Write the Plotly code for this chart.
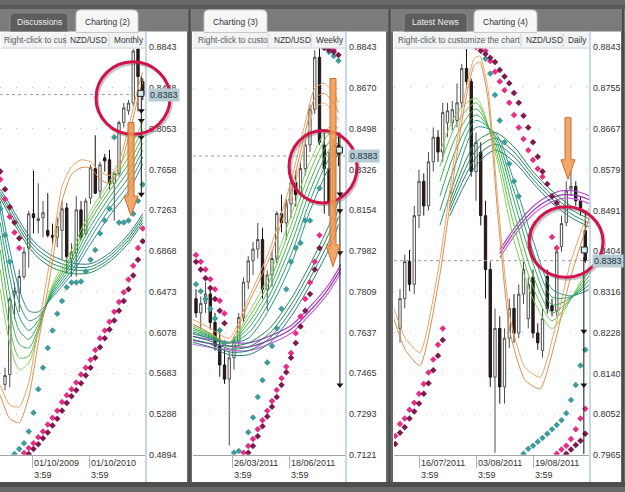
import plotly.graph_objects as go

W, H = 625, 492
FONT = "Liberation Sans, Arial, sans-serif"


def fx(px):
    return px / W


def fy(py):
    return 1 - py / H


def pt(px, py):
    return f"{fx(px):.5f},{fy(py):.5f}"


CURRENT = 0.8383
SYMBOL = "NZD/USD"

# ======================= Panel 1 : Monthly =======================
M_TICKS = [0.4894, 0.5288, 0.5683, 0.6078, 0.6473, 0.6868, 0.7263, 0.7658, 0.8053, 0.8448, 0.8843]
M_DATES = ["01/10/2009", "01/10/2010"]
M_DATE_POS = [5.7, 17.7]
M_OPEN = [.5575, .5670, .6449, .6468, .6620, .6896, .7228, .7162, .7190, .7067, .7019, .7000, .7067, .7285, .6791,
          .6848, .7266, .7038, .7380, .7665, .7447, .7770, .7751, .7523, .7618, .8112, .8226, .8301, .8824, .8510]
M_HIGH = [.5737, .6421, .6563, .6687, .6905, .7257, .7646, .7523, .7352, .7428, .7133, .7190, .7352, .7333, .6943,
          .7399, .7352, .7380, .7703, .7988, .7732, .7808, .7846, .7637, .8130, .8301, .8330, .8824, .8843, .8540]
M_LOW = [.5518, .5547, .6212, .6278, .6592, .6706, .7038, .7038, .7000, .7000, .6924, .6905, .6782, .6658, .6620,
         .6620, .6972, .7019, .7323, .7420, .7380, .7637, .7466, .7162, .7589, .8064, .8187, .8273, .8220, .8330]
M_CLOSE = [.5661, .6402, .6478, .6620, .6858, .7228, .7190, .7181, .7238, .7019, .7000, .7105, .7276, .6810, .6858,
           .7266, .7000, .7352, .7675, .7428, .7703, .7741, .7523, .7618, .8112, .8254, .8301, .8805, .8558, .8383]
M_RIB_X = [-1, 1, 3, 5, 7, 10, 14, 18, 22, 26, 29]
M_FAST = [
    [.6497, .5974, .5718, .5784, .6069, .6544, .6877, .7257, .7542, .7846, .8112],
    [.6687, .6117, .5832, .5851, .6088, .6516, .6829, .7209, .7494, .7779, .8045],
    [.6877, .6288, .5965, .5927, .6117, .6497, .6791, .7162, .7447, .7713, .7979],
    [.7019, .6449, .6098, .6012, .6155, .6478, .6753, .7105, .7390, .7646, .7912],
    [.7143, .6611, .6231, .6098, .6193, .6459, .6715, .7048, .7333, .7580, .7846],
    [.7257, .6753, .6364, .6193, .6231, .6440, .6677, .6991, .7276, .7513, .7779],
    [.7352, .6877, .6497, .6288, .6278, .6421, .6639, .6934, .7209, .7447, .7713],
]
M_SLOW = [
    [.7380, .7209, .7048, .6905, .6801, .6706, .6649, .6658, .6763, .6943, .7143],
    [.7409, .7247, .7086, .6943, .6839, .6744, .6687, .6687, .6791, .6972, .7171],
    [.7437, .7285, .7124, .6981, .6877, .6782, .6715, .6715, .6820, .7000, .7200],
    [.7466, .7323, .7162, .7019, .6915, .6820, .6753, .6744, .6848, .7029, .7228],
]
M_ORANGE_X = [-1, 1, 3, 5, 7, 10, 12, 14, 16, 18, 20, 22, 24, 26, 28, 29]
M_ORANGE = [
    [.5566, .5376, .5357, .5594, .6117, .6924, .7494, .7684, .7751, .7732, .7637, .7599, .7732, .8064, .8444, .8606],
    [.5471, .5243, .5205, .5452, .5974, .6763, .7352, .7608, .7675, .7675, .7561, .7523, .7656, .7969, .8349, .8511],
]
M_TEAL_X = [-1, 0, 1] + list(range(2, 30))
M_TEAL_Y = [.7276, .7019, .6763,
            .4901, .4948, .5005, .5119, .5300, .5528, .5737, .5927, .6098, .6259, .6383, .6516, .6563, .6563,
            .6573, .6668, .6782, .6877, .7038, .7162, .7276, .7969, .7143, .7143, .7162, .7228, .7352, .7513]
M_MAG_X = [-1, 0, 1, 2, 3] + list(range(4, 30))
M_MAG_Y = [.7561, .7371, .7200, .7048, .6896,
           .4910, .4958, .5005, .5062, .5119, .5186, .5252, .5319, .5404, .5471, .5528, .5594, .5670, .5737,
           .5813, .5908, .6022, .6098, .6183, .6278, .6373, .6468, .6592, .6725, .6896, .7086]
M_MAR_X = [-1, 0, 1, 2, 3] + list(range(5, 30))
M_MAR_Y = [.7637, .7466, .7295, .7143, .6991,
           .4901, .4948, .4996, .5053, .5110, .5176, .5243, .5319, .5395, .5461, .5518, .5585, .5661, .5737,
           .5832, .5936, .6022, .6107, .6193, .6288, .6383, .6497, .6630, .6782, .6962]
M_TARGET_X = 28.7
M_TARGET_TOP = 0.8558
M_TARGETS = [0.8226, 0.8131, 0.7969, 0.7418]
M_BOX = (28.6, 0.8395)

# ======================= Panel 2 : Weekly =======================
W_TICKS = [0.7121, 0.7293, 0.7465, 0.7637, 0.7809, 0.7982, 0.8154, 0.8326, 0.8498, 0.8670, 0.8843]
W_DATES = ["26/03/2011", "18/06/2011"]
W_DATE_POS = [7.58, 19.58]
W_OPEN = [.7780, .7720, .7760, .7800, .7680, .7580, .7500, .7440, .7530, .7600, .7700, .7850, .7940, .7990, .8030,
          .7820, .7880, .7950, .8140, .8100, .8180, .8270, .8220, .8330, .8430, .8580, .8800, .8429, .8330, .8193,
          .8429]
W_HIGH = [.7820, .7790, .7850, .7820, .7720, .7640, .7570, .7560, .7620, .7720, .7870, .7960, .8020, .8100, .8080,
          .7900, .7980, .8150, .8220, .8200, .8280, .8320, .8360, .8450, .8600, .8830, .8843, .8495, .8400, .8450,
          .8475]
W_LOW = [.7700, .7650, .7720, .7650, .7560, .7450, .7420, .7160, .7480, .7580, .7680, .7820, .7880, .7950, .7780,
         .7730, .7830, .7930, .8060, .8030, .8120, .8170, .8200, .8300, .8400, .8560, .8430, .8139, .8130, .8150,
         .8340]
W_CLOSE = [.7720, .7760, .7800, .7680, .7580, .7500, .7440, .7530, .7600, .7700, .7850, .7940, .7990, .8030, .7820,
           .7880, .7950, .8140, .8100, .8180, .8270, .8220, .8330, .8430, .8580, .8800, .8441, .8330, .8193, .8429,
           .8383]
W_RIB_X = [-1, 3, 7, 11, 15.5, 20, 24, 28, 30]
W_FAST = [
    [.7676, .7634, .7593, .7717, .7883, .8131, .8359, .8504, .8504],
    [.7667, .7630, .7593, .7696, .7854, .8090, .8317, .8475, .8483],
    [.7659, .7626, .7593, .7676, .7825, .8048, .8276, .8441, .8462],
    [.7651, .7622, .7593, .7655, .7796, .8007, .8234, .8408, .8441],
    [.7642, .7618, .7593, .7634, .7767, .7965, .8193, .8371, .8417],
    [.7634, .7613, .7593, .7613, .7738, .7924, .8152, .8334, .8392],
]
W_SLOW = [
    [.7634, .7613, .7580, .7593, .7655, .7779, .7924, .8090, .8193],
    [.7622, .7601, .7568, .7576, .7634, .7754, .7895, .8056, .8160],
    [.7609, .7589, .7555, .7560, .7613, .7729, .7866, .8023, .8127],
    [.7597, .7576, .7543, .7543, .7593, .7705, .7837, .7990, .8094],
]
W_ORANGE_X = [-1, 3, 7, 11, 15.5, 20, 23, 25, 27, 29, 30]
W_ORANGE = [
    [.7696, .7655, .7613, .7779, .7986, .8276, .8524, .8669, .8690, .8648, .8607],
    [.7676, .7634, .7593, .7758, .7953, .8234, .8483, .8628, .8648, .8607, .8566],
]
W_ORANGE3_X = [20, 23, 25, 27, 29, 30]
W_ORANGE3 = [.8193, .8441, .8586, .8607, .8566, .8533]
W_PURPLE_X = [-1, 5, 11, 15.5, 20, 24, 28, 30.5]
W_PURPLE = [
    [.7622, .7601, .7593, .7622, .7667, .7746, .7841, .7924],
    [.7605, .7584, .7576, .7605, .7651, .7729, .7825, .7907],
    [.7589, .7568, .7560, .7589, .7634, .7713, .7808, .7891],
]
W_MAG_X = [0, 1, 2, 3, 4, 5, 6] + list(range(10, 27)) + [28, 29]
W_MAG_Y = [.7965, .7936, .7903, .7862, .7820, .7771, .7717,
           .7129, .7158, .7187, .7228, .7266, .7307, .7348, .7394, .7444, .7493, .7551, .7634, .7705, .7779, .7849,
           .7936, .8048, .8839, .8831]
W_MAR_X = [0, 1, 2, 3, 4, 5, 6] + list(range(11, 27)) + [27, 28, 29, 30]
W_MAR_Y = [.7936, .7903, .7866, .7825, .7779, .7729, .7676,
           .7129, .7158, .7199, .7241, .7282, .7324, .7365, .7415, .7469, .7531, .7593, .7663, .7729, .7800, .7903,
           .7994, .8839, .8831, .8822, .8810]
W_TEAL_X = [0, 1, 2, 3, 4, 5, 6, 8, 9, 11, 12, 13, 14, 15, 16, 17, 18, 19, 20, 21, 22, 23, 24, 26, 28, 29, 30]
W_TEAL_Y = [.7841, .7812, .7779, .7738, .7696, .7647, .7593,
            .7129, .7137, .7216, .7278, .7365, .7435, .7510, .7580, .7655, .7738, .7820, .7936, .7994, .8015, .8110,
            .8110, .8247, .8822, .8806, .8785]
W_TARGET_X = 30.3
W_TARGET_TOP = 0.8483
W_TARGETS = [0.8222, 0.8152, 0.7974, 0.7415]
W_BOX = (30.2, 0.8408)

# ======================= Panel 3 : Daily =======================
D_TICKS = [0.7965, 0.8052, 0.8140, 0.8228, 0.8316, 0.8404, 0.8491, 0.8579, 0.8667, 0.8755, 0.8843]
D_DATES = ["16/07/2011", "03/08/2011", "19/08/2011"]
D_DATE_POS = [4, 16, 28]
D_OPEN = [.8237, .8301, .8381, .8332, .8480, .8554, .8501, .8596, .8649, .8617, .8680, .8680, .8685, .8723, .8797,
          .8769, .8575, .8617, .8480, .8364, .8132, .8237, .8111, .8216, .8280, .8227, .8311, .8258, .8347, .8227,
          .8189, .8349, .8286, .8275, .8413, .8465, .8537, .8543, .8512, .8448]
D_HIGH = [.8322, .8396, .8406, .8501, .8579, .8571, .8617, .8670, .8664, .8723, .8723, .8727, .8765, .8807, .8839,
          .8775, .8659, .8638, .8512, .8381, .8280, .8263, .8237, .8301, .8311, .8332, .8381, .8347, .8364, .8248,
          .8280, .8364, .8301, .8417, .8480, .8554, .8575, .8554, .8522, .8491]
D_LOW = [.8206, .8280, .8318, .8311, .8453, .8480, .8491, .8575, .8596, .8596, .8649, .8664, .8670, .8712, .8754,
         .8564, .8512, .8459, .8301, .8111, .7969, .8075, .8075, .8195, .8206, .8216, .8290, .8237, .8216, .8191,
         .8174, .8269, .8263, .8263, .8402, .8457, .8522, .8501, .8480, .8378]
D_CLOSE = [.8301, .8381, .8332, .8480, .8554, .8501, .8596, .8649, .8617, .8702, .8706, .8708, .8723, .8797, .8769,
           .8575, .8638, .8480, .8364, .8132, .8237, .8111, .8216, .8280, .8227, .8311, .8364, .8332, .8227, .8206,
           .8258, .8280, .8275, .8402, .8463, .8533, .8543, .8512, .8497, .8383]
D_FAST_X = [8.4, 12, 16, 20, 24, 28, 32, 36, 40]
D_FAST = [
    [.8617, .8702, .8733, .8617, .8427, .8301, .8237, .8301, .8375],
    [.8586, .8680, .8723, .8628, .8459, .8326, .8254, .8301, .8364],
    [.8554, .8655, .8710, .8638, .8486, .8351, .8271, .8301, .8353],
    [.8522, .8628, .8697, .8647, .8512, .8377, .8288, .8303, .8343],
    [.8491, .8600, .8685, .8653, .8533, .8402, .8305, .8305, .8332],
    [.8459, .8571, .8670, .8659, .8554, .8427, .8322, .8307, .8322],
]
D_SLOW_X = [10.5, 16, 20, 24, 28, 32, 36, 40]
D_SLOW = [
    [.8512, .8638, .8659, .8628, .8575, .8533, .8501, .8480],
    [.8501, .8621, .8647, .8617, .8567, .8524, .8493, .8472],
    [.8491, .8605, .8634, .8607, .8558, .8516, .8484, .8463],
    [.8480, .8588, .8621, .8596, .8550, .8507, .8476, .8455],
]
D_PURPLE_X = [21, 25.3, 29.5, 33.7, 36.8, 40]
D_PURPLE = [
    [.8406, .8470, .8512, .8533, .8533, .8522],
    [.8398, .8461, .8503, .8524, .8524, .8514],
    [.8389, .8453, .8495, .8516, .8516, .8505],
]
D_ORANGE_X = [-1.3, 1.1, 4.2, 8.4, 11.6, 13.7, 15.6, 16.8, 18.5, 20.6, 23.2, 26.3, 29.5, 32.6, 35.8, 40]
D_ORANGE = [
    [.8280, .8216, .8185, .8385, .8617, .8744, .8818, .8824, .8754, .8512, .8258, .8153, .8132, .8237, .8375, .8501],
    [.8258, .8191, .8157, .8353, .8586, .8723, .8803, .8811, .8733, .8480, .8227, .8126, .8107, .8206, .8343, .8480],
]
D_MAG_X = list(range(-1, 10)) + list(range(16, 31)) + [32, 33] + list(range(33, 40))
D_MAG_Y = [.8005, .8031, .8043, .8062, .8077, .8096, .8117, .8142, .8170, .8202, .8237,
           .8843, .8841, .8835, .8813, .8790, .8769, .8750, .8723, .8697, .8670, .8645, .8621, .8600, .8581, .8564,
           .8434, .8410,
           .7967, .7976, .7984, .7999, .8020, .8043, .8064]
D_MAR_X = list(range(-1, 10)) + list(range(17, 34)) + list(range(35, 40))
D_MAR_Y = [.7988, .8012, .8024, .8043, .8058, .8075, .8096, .8119, .8147, .8178, .8212,
           .8835, .8828, .8820, .8811, .8794, .8780, .8765, .8744, .8723, .8695, .8670, .8638, .8607, .8575, .8548,
           .8522, .8507,
           .7967, .7976, .7986, .7995, .8010]
D_TEAL_X = list(range(18, 26)) + list(range(26, 40))
D_TEAL_Y = [.8818, .8786, .8740, .8685, .8638, .8592, .8554, .8522,
            .7967, .7978, .7984, .7993, .8001, .8010, .8020, .8029, .8039, .8054, .8083, .8115, .8157, .8191]
D_TARGET_X = 38.7
D_TARGET_TOP = 0.8391
D_TARGET_BOTTOM = 0.7966
D_TARGETS = [0.8231, 0.8115]
D_BOX = (38.8, 0.8406)

# ======================= styling =======================
FAST_COLORS = ['#86d35e', '#62c24e', '#41b44c', '#2fa65c', '#2a9c72', '#2b9484', '#2a8a8e']
SLOW_COLORS = ['#1d8c48', '#1f865c', '#207f70', '#287a80']
ORANGE_COLORS = ['#e8a362', '#d98e4e', '#ebb07c']
PURPLE_COLORS = ['#b347cc', '#9b36b6', '#c866d8']
TEAL, MAGENTA, MAROON = '#3f9c9a', '#ea2c86', '#7e1a4c'

# panel pixel geometry: white panel, plot left/right, pixel of candle 0, candle step
GEO = [
    dict(x0=0, x1=187, pl=0, pr=146, base=5, step=4.75),
    dict(x0=192, x1=386, pl=193, pr=346, base=196, step=4.75),
    dict(x0=393, x1=621, pl=394, pr=590, base=400, step=4.75),
]
PLOT_TOP, PLOT_BOT = 43, 459

fig = go.Figure()


def lines(xs, ys_list, colors, xa, ya, width=1.0, smooth=0.8):
    for ys, c in zip(ys_list, colors):
        fig.add_trace(go.Scatter(x=xs, y=ys, mode='lines', xaxis=xa, yaxis=ya, hoverinfo='skip',
                                 line=dict(color=c, width=width, shape='spline', smoothing=smooth)))


def dots(xs, ys, color, xa, ya):
    fig.add_trace(go.Scatter(x=xs, y=ys, mode='markers', xaxis=xa, yaxis=ya, hoverinfo='skip',
                             marker=dict(symbol='diamond', size=5, color=color, line=dict(width=0))))


def candles(o, h, l, c, xa, ya):
    fig.add_trace(go.Candlestick(
        x=list(range(len(o))), open=o, high=h, low=l, close=c, xaxis=xa, yaxis=ya,
        increasing=dict(line=dict(color='#4e4e4e', width=1), fillcolor='#ffffff'),
        decreasing=dict(line=dict(color='#1e1212', width=1), fillcolor='#2c1c1c'),
        whiskerwidth=0, hoverinfo='skip'))


def target(tx, top, bottom, levels, xa, ya):
    fig.add_trace(go.Scatter(x=[tx, tx], y=[top, bottom], mode='lines', xaxis=xa, yaxis=ya, hoverinfo='skip',
                             line=dict(color='#151515', width=1)))
    fig.add_trace(go.Scatter(x=[tx] * len(levels), y=levels, mode='markers', xaxis=xa, yaxis=ya,
                             hoverinfo='skip', marker=dict(symbol='triangle-down', size=6, color='#151515')))


def current_line(rng, xa, ya):
    fig.add_trace(go.Scatter(x=rng, y=[CURRENT, CURRENT], mode='lines', xaxis=xa, yaxis=ya, hoverinfo='skip',
                             line=dict(color='#9c9c9c', width=1, dash='dot')))


def last_box(box, xa, ya):
    fig.add_trace(go.Scatter(x=[box[0]], y=[box[1]], mode='markers', xaxis=xa, yaxis=ya, hoverinfo='skip',
                             marker=dict(symbol='square', size=6, color='#d4eef6',
                                         line=dict(color='#222', width=1))))


ranges = [[(g['pl'] - g['base']) / g['step'], (g['pr'] - g['base']) / g['step']] for g in GEO]

# ---- panel 1 ----
lines(M_RIB_X, M_SLOW, SLOW_COLORS, 'x', 'y')
lines(M_RIB_X, M_FAST, FAST_COLORS, 'x', 'y')
lines(M_ORANGE_X, M_ORANGE, ORANGE_COLORS, 'x', 'y', smooth=0.6)
current_line(ranges[0], 'x', 'y')
dots(M_TEAL_X, M_TEAL_Y, TEAL, 'x', 'y')
dots(M_MAG_X, M_MAG_Y, MAGENTA, 'x', 'y')
dots(M_MAR_X, M_MAR_Y, MAROON, 'x', 'y')
candles(M_OPEN, M_HIGH, M_LOW, M_CLOSE, 'x', 'y')
target(M_TARGET_X, M_TARGET_TOP, min(M_TARGETS), M_TARGETS, 'x', 'y')
last_box(M_BOX, 'x', 'y')

# ---- panel 2 ----
lines(W_PURPLE_X, W_PURPLE, PURPLE_COLORS, 'x2', 'y2', 1.2)
lines(W_RIB_X, W_SLOW, SLOW_COLORS, 'x2', 'y2')
lines(W_RIB_X, W_FAST, FAST_COLORS, 'x2', 'y2')
lines(W_ORANGE_X, W_ORANGE, ORANGE_COLORS, 'x2', 'y2', smooth=0.6)
lines(W_ORANGE3_X, [W_ORANGE3], [ORANGE_COLORS[2]], 'x2', 'y2', smooth=0.6)
current_line(ranges[1], 'x2', 'y2')
dots(W_TEAL_X, W_TEAL_Y, TEAL, 'x2', 'y2')
dots(W_MAG_X, W_MAG_Y, MAGENTA, 'x2', 'y2')
dots(W_MAR_X, W_MAR_Y, MAROON, 'x2', 'y2')
candles(W_OPEN, W_HIGH, W_LOW, W_CLOSE, 'x2', 'y2')
target(W_TARGET_X, W_TARGET_TOP, min(W_TARGETS), W_TARGETS, 'x2', 'y2')
last_box(W_BOX, 'x2', 'y2')

# ---- panel 3 ----
lines(D_PURPLE_X, D_PURPLE, PURPLE_COLORS, 'x3', 'y3', 1.2)
lines(D_SLOW_X, D_SLOW, SLOW_COLORS, 'x3', 'y3')
lines(D_FAST_X, D_FAST, FAST_COLORS, 'x3', 'y3')
lines(D_ORANGE_X, D_ORANGE, ORANGE_COLORS, 'x3', 'y3', smooth=0.55)
current_line(ranges[2], 'x3', 'y3')
dots(D_TEAL_X, D_TEAL_Y, TEAL, 'x3', 'y3')
dots(D_MAG_X, D_MAG_Y, MAGENTA, 'x3', 'y3')
dots(D_MAR_X, D_MAR_Y, MAROON, 'x3', 'y3')
candles(D_OPEN, D_HIGH, D_LOW, D_CLOSE, 'x3', 'y3')
target(D_TARGET_X, D_TARGET_TOP, D_TARGET_BOTTOM, D_TARGETS, 'x3', 'y3')
last_box(D_BOX, 'x3', 'y3')

# ---- axes ----
ydom = [fy(PLOT_BOT), fy(PLOT_TOP)]
TICKSETS = [M_TICKS, W_TICKS, D_TICKS]
DATEPOS = [M_DATE_POS, W_DATE_POS, D_DATE_POS]
layout_axes = {}
for k, g in enumerate(GEO):
    sfx = '' if k == 0 else str(k + 1)
    layout_axes['xaxis' + sfx] = dict(
        domain=[fx(g['pl']), fx(g['pr'])], range=ranges[k], anchor='y' + sfx,
        showgrid=False, zeroline=False, showticklabels=False,
        ticks='outside', ticklen=12, tickcolor='#a9b3bd', tickwidth=1, tickvals=DATEPOS[k],
        showline=True, linecolor='#a4a4a4', linewidth=1, rangeslider=dict(visible=False), fixedrange=True)
    tk = TICKSETS[k]
    layout_axes['yaxis' + sfx] = dict(
        domain=ydom, range=[tk[0] - 1e-6, tk[-1] + 1e-6], anchor='x' + sfx, side='right',
        tickvals=tk, ticktext=[f"{t:.4f}" for t in tk], ticks='', showline=False,
        showgrid=True, gridcolor='#c4c4c4', griddash='1px,15px', gridwidth=1, zeroline=False,
        tickfont=dict(size=9, color='#333333', family=FONT), ticklabelstandoff=2, fixedrange=True)

# ---- shapes ----
shapes = []


def rect(x0, y0, x1, y1, fill, line=None, layer='below'):
    return dict(type='rect', xref='paper', yref='paper', x0=fx(x0), x1=fx(x1), y0=fy(y1), y1=fy(y0),
                fillcolor=fill, line=dict(width=0) if line is None else dict(color=line, width=1), layer=layer)


def seg(x0, y0, x1, y1, color, width=1, layer='above'):
    return dict(type='line', xref='paper', yref='paper', x0=fx(x0), x1=fx(x1), y0=fy(y0), y1=fy(y1),
                line=dict(color=color, width=width), layer=layer)


def tab_path(x0, y0, x1, y1, r=5):
    return (f"M {pt(x0, y1)} L {pt(x0, y0 + r)} Q {pt(x0, y0)} {pt(x0 + r, y0)} "
            f"L {pt(x1 - r, y0)} Q {pt(x1, y0)} {pt(x1, y0 + r)} L {pt(x1, y1)} Z")


def arrow_path(cx, top, hb, tip, sw=3, hw=7):
    return (f"M {pt(cx - sw, top)} L {pt(cx + sw, top)} L {pt(cx + sw, hb)} L {pt(cx + hw, hb)} "
            f"L {pt(cx, tip)} L {pt(cx - hw, hb)} L {pt(cx - sw, hb)} Z")


shapes.append(rect(0, 0, 625, 28, '#7b7b7b'))
shapes.append(rect(0, 0, 625, 4, '#585858'))
for g in GEO:
    shapes.append(rect(g['x0'], 27, g['x1'], 487, '#ffffff'))
    shapes.append(rect(g['x0'] + 1, 28, g['pr'], 44, '#f2f3f4', layer='above'))
    shapes.append(seg(g['x0'] + 1, 44, g['pr'], 44, '#c8d3dc'))
    shapes.append(seg(g['pr'], 27, g['pr'], 487, '#c6d9ea', 2))
shapes.append(rect(0, 487, 625, 492, '#4e4e4e'))
for sx in (189.5, 389.5, 623):
    shapes.append(seg(sx, 4, sx, 487, '#4a4a4a', 2, 'below'))
for sx in (65, 109, 268, 311, 521, 563):
    shapes.append(seg(sx, 29, sx, 43, '#d2d6da'))

TABS = [("Discussions", 10, 68, False), ("Charting (2)", 76, 138, True), ("Charting (3)", 204, 267, True),
        ("Latest News", 404, 467, False), ("Charting (4)", 474, 537, True)]
for label, t0, t1, active in TABS:
    shapes.append(dict(type='path', xref='paper', yref='paper', layer='above',
                       path=tab_path(t0, 5 if active else 8, t1, 28 if active else 27),
                       fillcolor='#f7f7f7' if active else '#5d5d5d',
                       line=dict(color='#c4c4c4' if active else '#8e8e8e', width=1)))

CIRCLES = [(133, 95, 37, 37), (323, 165, 34, 37), (566, 242, 37, 36)]
for cx, cy, rx, ry in CIRCLES:
    shapes.append(dict(type='circle', xref='paper', yref='paper', layer='above',
                       x0=fx(cx - rx + 1.5), x1=fx(cx + rx + 1.5), y0=fy(cy + ry + 2), y1=fy(cy - ry + 2),
                       line=dict(color='rgba(90,90,90,0.35)', width=3)))
    shapes.append(dict(type='circle', xref='paper', yref='paper', layer='above',
                       x0=fx(cx - rx), x1=fx(cx + rx), y0=fy(cy + ry), y1=fy(cy - ry),
                       line=dict(color='#d3124a', width=3)))
ARROWS = [(131, 120, 195, 215), (333, 75, 245, 267), (568, 115, 158, 178)]
for cx, top, hb, tip in ARROWS:
    shapes.append(dict(type='path', xref='paper', yref='paper', layer='above', path=arrow_path(cx, top, hb, tip),
                       fillcolor='rgba(240,150,80,0.85)', line=dict(color='#c8702c', width=1)))

# ---- annotations ----
ann = []
for label, t0, t1, active in TABS:
    ann.append(dict(xref='paper', yref='paper', x=fx((t0 + t1) / 2), y=fy(17), text=label, showarrow=False,
                    xanchor='center', yanchor='middle',
                    font=dict(size=8.5, family=FONT, color='#333333' if active else '#eeeeee')))
HEADERS = [("Right-click to cus", 2, '#5a5a5a'), (SYMBOL, 68, '#333333'), ("Monthly", 112, '#333333'),
           ("Right-click to custo", 196, '#5a5a5a'), (SYMBOL, 272, '#333333'), ("Weekly", 314, '#333333'),
           ("Right-click to customize the chart", 396, '#5a5a5a'), (SYMBOL, 524, '#333333'),
           ("Daily", 566, '#333333')]
for text, px, col in HEADERS:
    ann.append(dict(xref='paper', yref='paper', x=fx(px), y=fy(36), text=text, showarrow=False,
                    xanchor='left', yanchor='middle', font=dict(size=8.3, family=FONT, color=col)))
DATESETS = [M_DATES, W_DATES, D_DATES]
for k in range(3):
    sfx = '' if k == 0 else str(k + 1)
    for d, pos in zip(DATESETS[k], DATEPOS[k]):
        ann.append(dict(xref='x' + sfx, yref='paper', x=pos, y=fy(460), text=f"{d}<br>3:59", showarrow=False,
                        xanchor='left', yanchor='top', align='left',
                        font=dict(size=9, family=FONT, color='#333333')))
    ann.append(dict(xref='paper', yref='y' + sfx, x=fx(GEO[k]['pr'] + 1.5), y=CURRENT, text=f"{CURRENT:.4f}",
                    showarrow=False, xanchor='left', yanchor='middle', bgcolor='#b7cbd3', borderpad=1,
                    font=dict(size=9, family=FONT, color='#223344')))

fig.update_layout(width=W, height=H, margin=dict(l=0, r=0, t=0, b=0), paper_bgcolor='#686868',
                  plot_bgcolor='#ffffff', showlegend=False, shapes=shapes, annotations=ann,
                  font=dict(family=FONT, size=9, color='#333333'), **layout_axes)

fig.write_html("out.html")
